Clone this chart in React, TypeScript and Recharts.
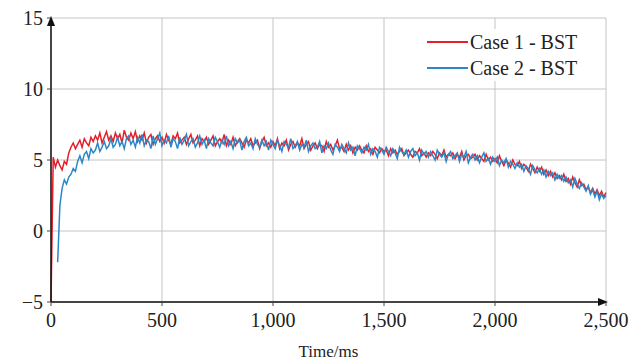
import { LineChart, Line, XAxis, YAxis, CartesianGrid } from "recharts";

const time = [
  0, 10, 20, 30, 40, 50, 60, 70, 80, 90,
  100, 110, 120, 130, 140, 150, 160, 170, 180, 190,
  200, 210, 220, 230, 240, 250, 260, 270, 280, 290,
  300, 310, 320, 330, 340, 350, 360, 370, 380, 390,
  400, 410, 420, 430, 440, 450, 460, 470, 480, 490,
  500, 510, 520, 530, 540, 550, 560, 570, 580, 590,
  600, 610, 620, 630, 640, 650, 660, 670, 680, 690,
  700, 710, 720, 730, 740, 750, 760, 770, 780, 790,
  800, 810, 820, 830, 840, 850, 860, 870, 880, 890,
  900, 910, 920, 930, 940, 950, 960, 970, 980, 990,
  1000, 1010, 1020, 1030, 1040, 1050, 1060, 1070, 1080, 1090,
  1100, 1110, 1120, 1130, 1140, 1150, 1160, 1170, 1180, 1190,
  1200, 1210, 1220, 1230, 1240, 1250, 1260, 1270, 1280, 1290,
  1300, 1310, 1320, 1330, 1340, 1350, 1360, 1370, 1380, 1390,
  1400, 1410, 1420, 1430, 1440, 1450, 1460, 1470, 1480, 1490,
  1500, 1510, 1520, 1530, 1540, 1550, 1560, 1570, 1580, 1590,
  1600, 1610, 1620, 1630, 1640, 1650, 1660, 1670, 1680, 1690,
  1700, 1710, 1720, 1730, 1740, 1750, 1760, 1770, 1780, 1790,
  1800, 1810, 1820, 1830, 1840, 1850, 1860, 1870, 1880, 1890,
  1900, 1910, 1920, 1930, 1940, 1950, 1960, 1970, 1980, 1990,
  2000, 2010, 2020, 2030, 2040, 2050, 2060, 2070, 2080, 2090,
  2100, 2110, 2120, 2130, 2140, 2150, 2160, 2170, 2180, 2190,
  2200, 2210, 2220, 2230, 2240, 2250, 2260, 2270, 2280, 2290,
  2300, 2310, 2320, 2330, 2340, 2350, 2360, 2370, 2380, 2390,
  2400, 2410, 2420, 2430, 2440, 2450, 2460, 2470, 2480, 2490,
  2500,
];

// Case 1 - BST
const case1 = [
  -5, 5.2, 4.5, 5.0, 4.6, 4.3, 4.9, 4.7, 5.5, 5.9,
  6.2, 5.8, 6.1, 6.4, 5.9, 6.5, 6.2, 6.0, 6.6, 6.3,
  6.7, 6.4, 6.9, 6.2, 6.6, 7.0, 6.4, 6.7, 6.3, 6.9,
  6.5, 6.8, 6.2, 7.1, 6.6, 6.4, 6.9, 6.5, 7.0, 6.3,
  6.7, 6.4, 6.9, 6.2, 6.6, 6.8, 6.1, 6.5, 6.7, 6.3,
  6.6, 6.2, 6.8, 6.4, 6.1, 6.7, 6.5, 6.9, 6.2, 6.4,
  6.6, 6.1, 6.5, 6.8, 6.2, 6.4, 6.7, 6.0, 6.5, 6.3,
  6.6, 6.1, 6.4, 6.7, 6.0, 6.3, 6.5, 6.2, 6.8, 6.0,
  6.4, 6.1, 6.6, 6.0, 6.3, 6.5, 6.2, 5.9, 6.4, 6.2,
  6.5, 6.0, 6.2, 6.4, 5.8, 6.3, 6.6, 6.0, 6.2, 5.9,
  6.3, 6.0, 6.5, 5.8, 6.2, 6.0, 6.4, 5.7, 6.1, 6.3,
  5.9, 6.2, 6.0, 6.5, 5.8, 6.1, 6.3, 5.7, 6.0, 6.2,
  5.8, 6.1, 6.0, 5.6, 6.3, 5.9, 6.1, 5.7, 6.0, 6.4,
  5.8, 5.9, 5.6, 6.1, 5.7, 6.0, 5.5, 5.9, 5.7, 6.0,
  5.7, 5.5, 6.0, 5.6, 5.8, 5.4, 5.9, 5.7, 5.5, 5.8,
  5.6, 5.7, 5.3, 5.8, 5.5, 5.7, 5.4, 5.6, 5.8, 5.3,
  5.5, 5.7, 5.4, 5.2, 5.6, 5.5, 5.8, 5.3, 5.5, 5.2,
  5.5, 5.3, 5.6, 5.4, 5.1, 5.5, 5.3, 5.7, 5.2, 5.4,
  5.3, 5.5, 5.1, 5.4, 5.2, 5.6, 5.0, 5.3, 5.4, 5.1,
  5.2, 5.4, 5.0, 5.3, 5.1, 4.9, 5.4, 5.0, 5.2, 4.9,
  5.1, 4.8, 5.3, 4.9, 4.6, 5.0, 4.8, 4.5, 5.0, 4.7,
  4.6, 4.9, 4.4, 4.7, 4.5, 4.2, 4.7, 4.4, 4.1, 4.5,
  4.2, 4.5, 4.0, 4.3, 3.9, 4.2, 3.8, 4.1, 3.7, 3.9,
  3.6, 4.0, 3.5, 3.7, 3.3, 3.8, 3.4, 3.1, 3.6, 3.2,
  3.3, 2.9, 3.1, 2.7, 3.0, 2.6, 2.9, 2.5, 2.8, 2.4,
  2.7,
];

// Case 2 - BST
const case2 = [
  null, null, null, -2.2, 1.8, 3.0, 3.6, 3.3, 3.8, 4.0,
  4.4, 4.2, 4.9, 5.3, 4.8, 5.4, 5.6, 5.1, 5.8, 5.5,
  5.7, 6.2, 5.6, 5.9, 6.3, 5.8, 6.0, 6.5, 5.9, 6.1,
  6.6, 6.0, 6.3, 5.8, 6.5, 6.7, 6.1, 6.4, 5.9, 6.6,
  6.2, 6.8, 6.0, 6.4, 6.3, 5.8, 6.7, 6.1, 6.5, 6.9,
  6.0, 6.4, 6.2, 6.7, 5.9, 6.5, 6.3, 5.8, 6.6, 6.1,
  6.4, 6.8, 6.0, 6.3, 6.5, 5.9, 6.2, 6.7, 6.1, 6.4,
  5.8, 6.5, 6.2, 6.0, 6.6, 6.3, 5.9, 6.4, 6.1, 6.7,
  6.0, 6.3, 5.8, 6.5, 6.2, 6.4, 5.7, 6.3, 6.6, 6.0,
  6.2, 5.8, 6.5, 6.1, 5.9, 6.4, 6.0, 6.3, 5.7, 6.4,
  6.1, 5.8, 6.4, 6.0, 5.6, 6.3, 6.1, 5.9, 6.5, 5.8,
  6.0, 6.3, 5.7, 6.1, 5.9, 6.4, 5.6, 6.0, 6.2, 5.8,
  5.9, 6.3, 5.5, 6.0, 5.8, 6.2, 5.7, 5.4, 6.1, 5.9,
  5.6, 6.1, 5.8, 5.5, 6.2, 5.7, 5.9, 5.3, 6.0, 5.8,
  5.5, 5.9, 5.7, 6.1, 5.4, 5.8, 5.6, 5.2, 5.9, 5.7,
  5.4, 5.9, 5.6, 5.3, 5.8, 5.5, 5.1, 5.9, 5.6, 5.4,
  5.7, 5.2, 5.6, 5.8, 5.3, 5.5, 5.0, 5.7, 5.4, 5.6,
  5.2, 5.6, 5.3, 5.0, 5.7, 5.4, 5.2, 5.5, 4.9, 5.4,
  5.6, 5.1, 5.3, 5.5, 4.9, 5.4, 5.2, 5.6, 4.8, 5.2,
  5.4, 5.0, 5.3, 4.8, 5.2, 5.5, 4.9, 5.1, 4.7, 5.2,
  4.9, 5.2, 4.6, 5.0, 4.8, 5.1, 4.5, 4.9, 4.7, 4.4,
  4.8, 4.5, 4.7, 4.2, 4.6, 4.4, 4.0, 4.6, 4.3, 4.1,
  4.4, 4.0, 4.3, 3.8, 4.2, 3.9, 4.1, 3.6, 4.0, 3.7,
  3.9, 3.5, 3.8, 3.4, 3.6, 3.1, 3.7, 3.3, 3.0, 3.4,
  3.1, 2.8, 3.2, 2.6, 2.9, 2.4, 2.8, 2.2, 2.6, 2.3,
  2.5,
];

const xTicks = [0, 500, 1000, 1500, 2000, 2500];
const yTicks = [-5, 0, 5, 10, 15];
const seriesNames = ["Case 1 - BST", "Case 2 - BST"];
const seriesColors = ["#e3202c", "#2b88c8"];

const data = time.map((t, i) => ({ t, case1: case1[i], case2: case2[i] }));

const serif = '"Liberation Serif", "Times New Roman", serif';
const tickStyle = { fill: "#222", fontSize: 20, fontFamily: serif };

function LegendBox() {
  return (
    <div
      style={{
        position: "absolute",
        left: 425,
        top: 29,
        background: "rgba(255,255,255,0.92)",
        padding: "0 4px 0 2px",
        fontFamily: serif,
        fontSize: 20,
        color: "#222",
        lineHeight: "26px",
      }}
    >
      {seriesNames.map((name, i) => (
        <div key={name} style={{ display: "flex", alignItems: "center" }}>
          <span
            style={{
              display: "inline-block",
              width: 41,
              borderTop: `2px solid ${seriesColors[i]}`,
              marginRight: 2,
            }}
          />
          {name}
        </div>
      ))}
    </div>
  );
}

export default function App() {
  return (
    <div style={{ position: "relative", width: 633, height: 361, background: "#fff", fontFamily: serif }}>
      <style>{"body{margin:0}"}</style>
      <svg width={0} height={0} style={{ position: "absolute" }}>
        <defs>
          <marker id="arrow" viewBox="0 0 10 10" refX="8" refY="5" markerWidth="7" markerHeight="7" orient="auto-start-reverse">
            <path d="M0,1 L10,5 L0,9 Z" fill="#111" />
          </marker>
        </defs>
      </svg>
      <LineChart
        width={633}
        height={361}
        data={data}
        margin={{ top: 18, right: 27, left: 0, bottom: 0 }}
        style={{ fontFamily: serif }}
      >
        <CartesianGrid stroke="#c4c4c4" strokeWidth={1} />
        <XAxis
          dataKey="t"
          type="number"
          domain={[0, 2500]}
          ticks={xTicks}
          height={59}
          tickSize={4}
          tickMargin={7}
          axisLine={{ stroke: "#111", strokeWidth: 1.5, markerEnd: "url(#arrow)" }}
          tickLine={{ stroke: "#444" }}
          tick={tickStyle}
          tickFormatter={(v: number) => v.toLocaleString("en-US")}
          label={{ value: "Time/ms", position: "insideBottom", offset: 4, style: { fill: "#222", fontSize: 17, fontFamily: serif } }}
        />
        <YAxis
          type="number"
          domain={[-5, 15]}
          ticks={yTicks}
          width={51}
          tickSize={4}
          tickMargin={4}
          axisLine={{ stroke: "#111", strokeWidth: 1.5, markerStart: "url(#arrow)" }}
          tickLine={{ stroke: "#444" }}
          tick={tickStyle}
          tickFormatter={(v: number) => String(v).replace("-", "\u2212")}
        />
        <Line
          dataKey="case1"
          stroke={seriesColors[0]}
          strokeWidth={1.5}
          dot={false}
          isAnimationActive={false}
        />
        <Line
          dataKey="case2"
          stroke={seriesColors[1]}
          strokeWidth={1.5}
          dot={false}
          isAnimationActive={false}
        />
      </LineChart>
      <LegendBox />
    </div>
  );
}
